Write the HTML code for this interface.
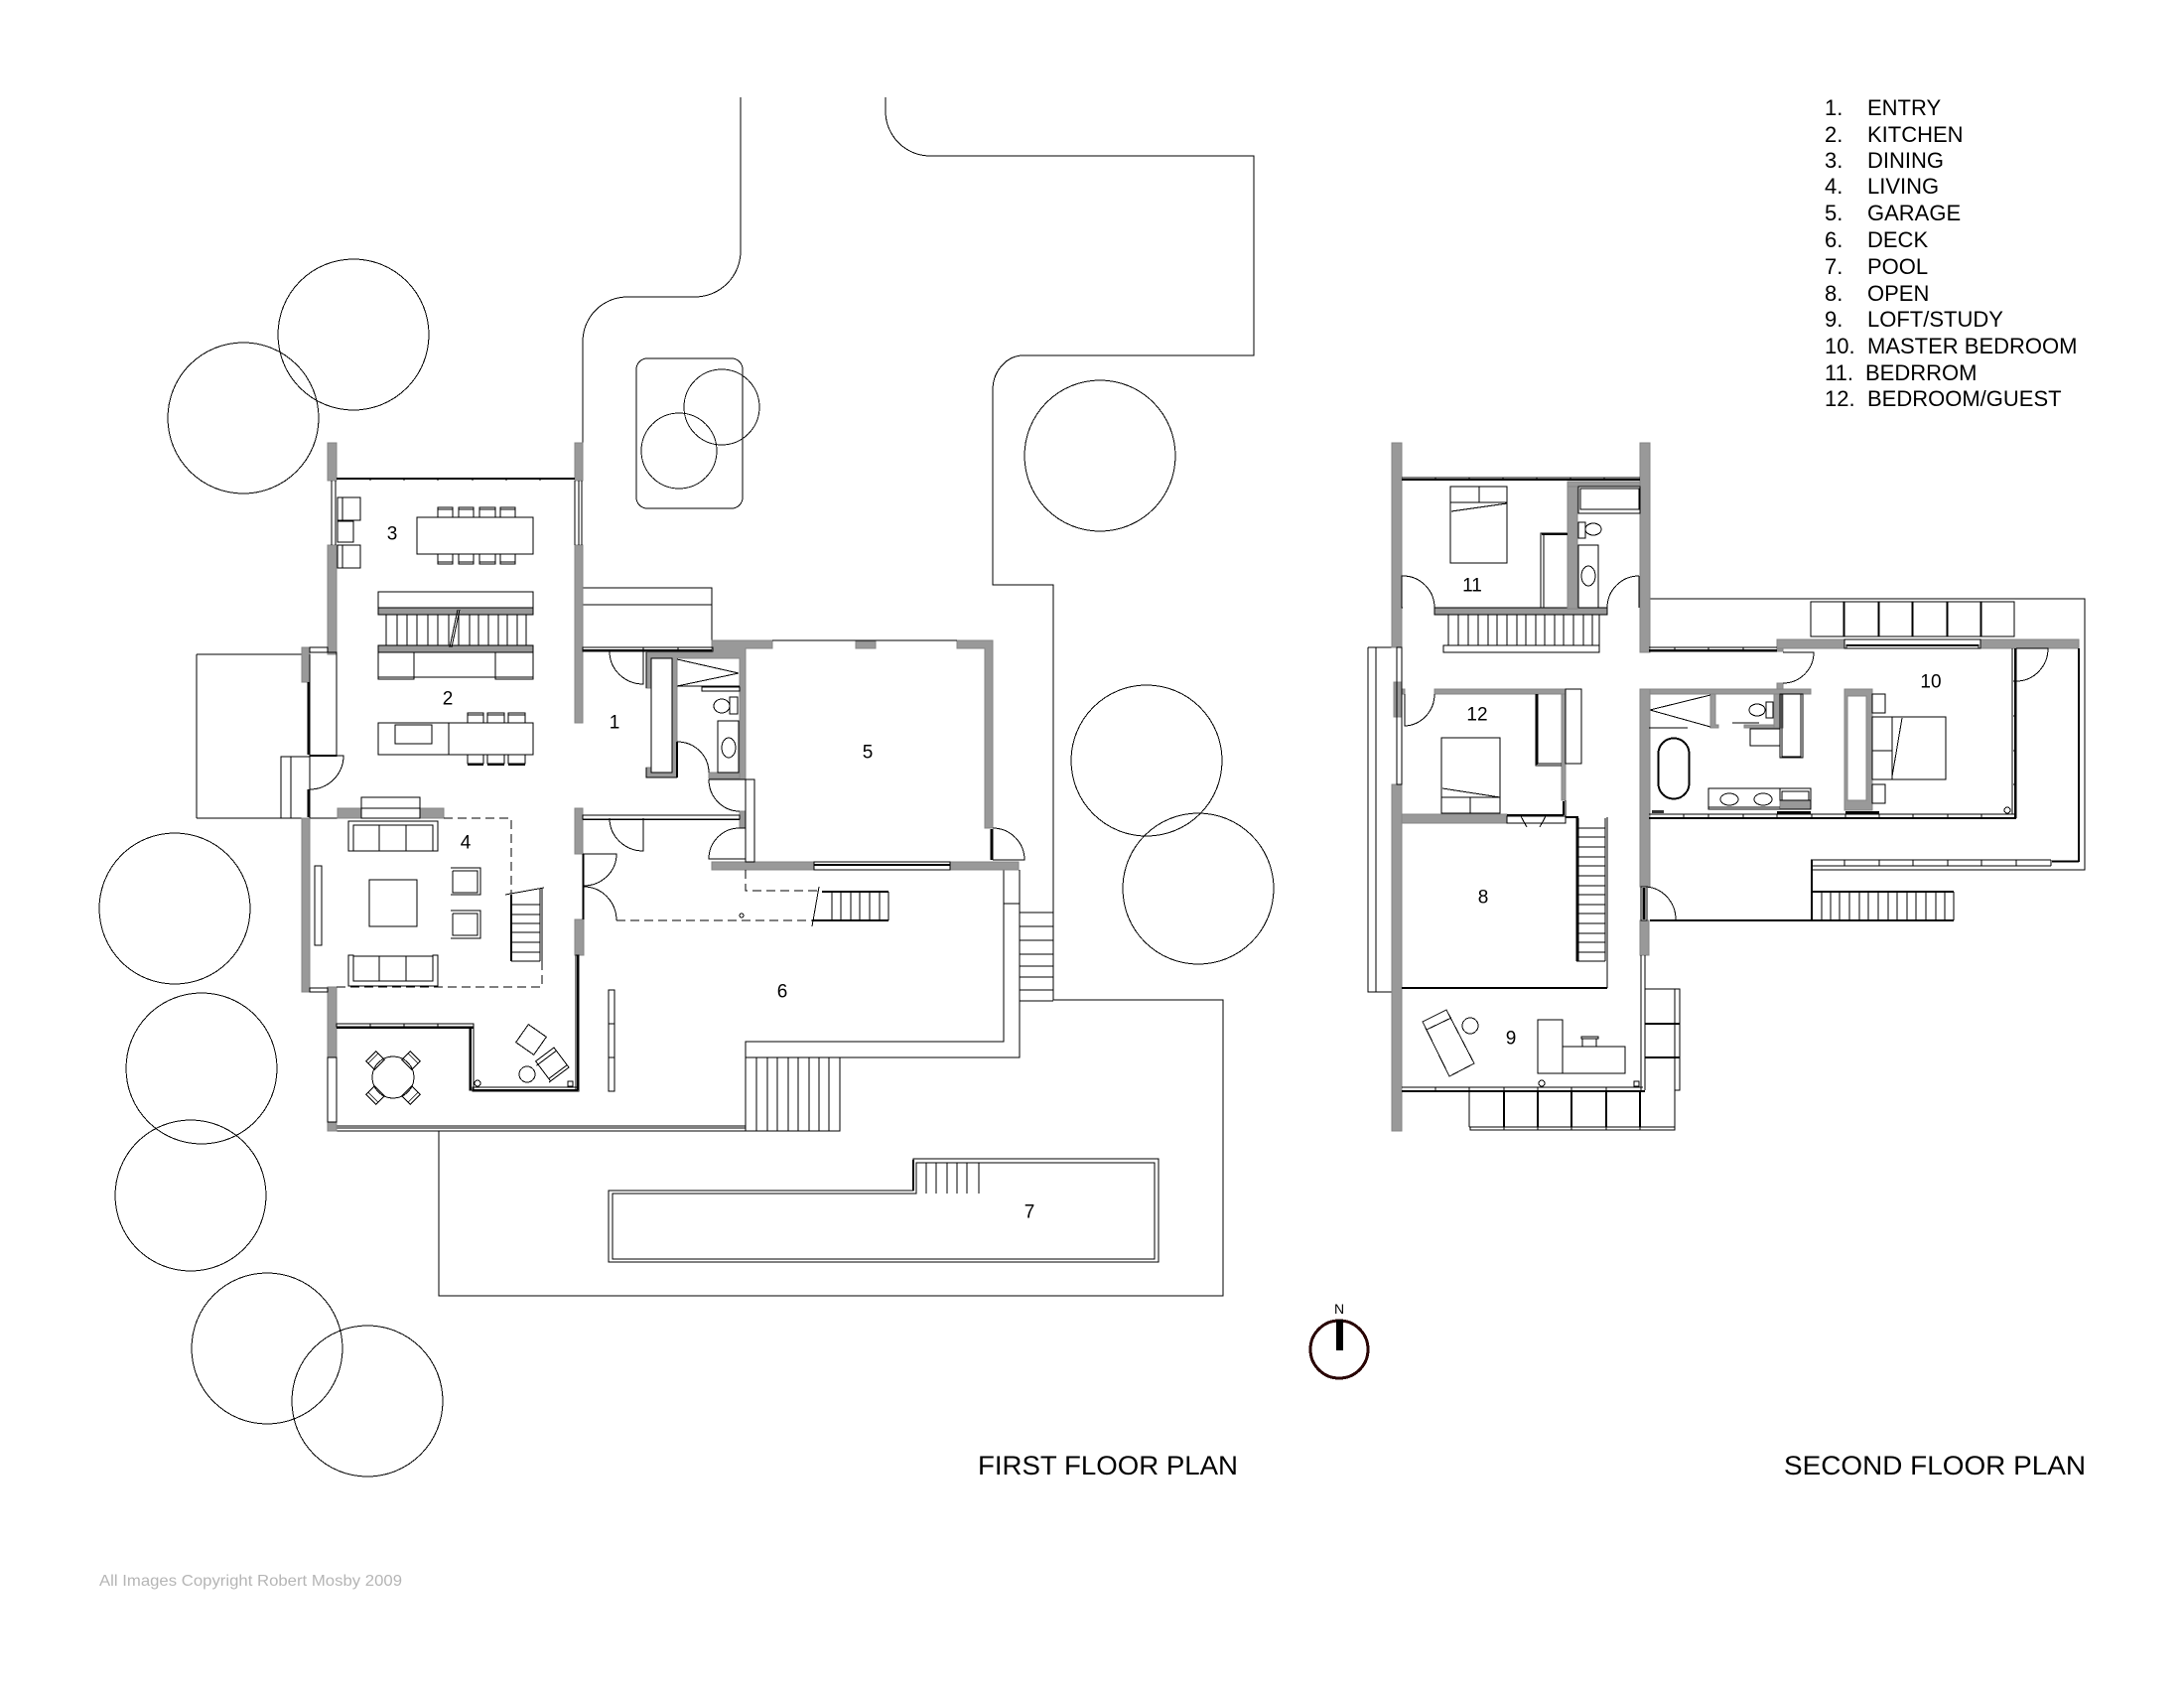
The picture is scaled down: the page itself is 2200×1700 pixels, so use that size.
<!DOCTYPE html>
<html>
<head>
<meta charset="utf-8">
<title>Floor plans</title>
<style>
html,body{margin:0;padding:0;background:#fff}
svg{display:block;shape-rendering:crispEdges}
text{font-family:"Liberation Sans",sans-serif;fill:#000;stroke:none}
.l{fill:none;stroke:#000;stroke-width:1}
.m{fill:none;stroke:#000;stroke-width:1.5}
.t{fill:none;stroke:#000;stroke-width:2}
.d{fill:none;stroke:#000;stroke-width:1;stroke-dasharray:9 5}
.w{fill:#fff;stroke:#000;stroke-width:1}
.g{fill:#999;stroke:#858585;stroke-width:1}
.gb{fill:#999;stroke:#000;stroke-width:1}
.n{font-size:19px;text-anchor:middle;dominant-baseline:central}
.lg{font-size:22px}
.ti{font-size:26.5px}
</style>
</head>
<body>
<svg xmlns="http://www.w3.org/2000/svg" width="2200" height="1700" viewBox="0 0 2200 1700">
<rect width="2200" height="1700" fill="#fff"/>

<!-- SITE -->
<g class="l">
<path d="M746 98V253A46 46 0 0 1 700 299H632A45 45 0 0 0 587 344V484"/>
<path d="M892 98V112A45 45 0 0 0 937 157H1263V358H1031A31 35 0 0 0 1000 393V589H1061V1007H1232V1305H442V1139"/>
<circle cx="356" cy="337" r="76"/><circle cx="245" cy="421" r="76"/>
<circle cx="176" cy="915" r="76"/><circle cx="203" cy="1076" r="76"/>
<circle cx="192" cy="1204" r="76"/><circle cx="269" cy="1358" r="76"/>
<circle cx="370" cy="1411" r="76"/><circle cx="1108" cy="459" r="76"/>
<circle cx="1155" cy="766" r="76"/><circle cx="1207" cy="895" r="76"/>
<circle cx="727" cy="410" r="38"/><circle cx="684" cy="454" r="38"/>
<rect x="641" y="361" width="107" height="151" rx="11"/>
<path d="M198 659H304M198 659V824M198 824H447"/>
<rect x="283" y="762" width="29" height="62"/><path d="M293 762V824"/>
<path d="M587 592H717V656M587 609H717"/>
<path d="M1027 919H1061M1027 933H1061M1027 947H1061M1027 961H1061M1027 973H1061M1027 984H1061M1027 997H1061M1027 1008H1061"/>
<path d="M1011 876V1049H751V1139M751 1065H1027V876M1011 910H1027"/>
<path d="M751 1139H846V1065M762 1065V1139M773 1065V1139M783 1065V1139M794 1065V1139M804 1065V1139M815 1065V1139M825 1065V1139M835 1065V1139"/>
<path d="M339 1134H751M339 1136H751M339 1139H751"/>
</g>

<!-- POOL -->
<g class="l">
<path d="M613 1199H920V1167H1167V1271H613Z"/>
<path d="M617 1202H923V1171H1163V1268H617Z"/>
<path d="M986 1171V1202M933 1171V1202M943 1171V1202M954 1171V1202M964 1171V1202M974 1171V1202"/>
</g>
<path class="t" d="M920 1168V1199"/>

<!-- FIRST FLOOR walls -->
<g class="g">
<rect x="330" y="446" width="9" height="38"/>
<rect x="579" y="446" width="8" height="38"/>
<rect x="330" y="549" width="9" height="110"/>
<rect x="579" y="549" width="8" height="179"/>
<rect x="304" y="652" width="8" height="35"/>
<rect x="304" y="824" width="8" height="175"/>
<rect x="340" y="814" width="24" height="10"/>
<rect x="423" y="814" width="24" height="10"/>
<rect x="330" y="994" width="9" height="71"/>
<rect x="330" y="1130" width="9" height="9"/>
<rect x="579" y="814" width="8" height="46"/>
<rect x="579" y="926" width="9" height="36"/>
<path d="M717 645H778V653H751V785H745V663H682V783H651V773H656V778H677V663H656V693H651V657H717Z"/>
<rect x="862" y="646" width="20" height="7"/>
<path d="M964 645H1000V834H992V653H964Z"/>
<rect x="717" y="868" width="103" height="8"/>
<rect x="957" y="868" width="69" height="8"/>
<rect x="714" y="778" width="31" height="6"/>
<rect x="745" y="817" width="6" height="17"/>
</g>
<path class="l" d="M778 645H964"/>
<path class="l" d="M651 657V693M651 773V783H682M656 663V693M656 778H677V663H656"/>
<rect class="w" x="656" y="663" width="21" height="115"/>

<!-- Windows 1F -->
<g class="l">
<path d="M334 484V549M338 484V549"/>
<path d="M579 484V549M583 484V549M586 484V549"/>
<rect x="312" y="652" width="18" height="5"/>
<path d="M312 657H339V762M312 659V824"/>
<rect x="312" y="995" width="18" height="4"/>
<rect x="330" y="1065" width="9" height="65"/>
<rect x="339" y="1031" width="138" height="3"/>
<rect x="473" y="1034" width="4" height="64"/>
<rect x="587" y="652" width="131" height="4"/>
<rect x="587" y="821" width="158" height="4"/>
<rect x="476" y="1095" width="107" height="4"/>
<rect x="580" y="962" width="3" height="137"/>
</g>
<path class="t" d="M339 482H579"/>
<path class="t" d="M587 655H717"/>
<path class="m" d="M587 825H745"/>
<path class="t" d="M339 1035H477"/>
<path class="t" d="M474 1034V1098"/>
<path class="t" d="M477 1098H582"/>
<path class="t" d="M582 962V1098"/>
<path class="t" d="M310.5 687V760M310.5 795V823"/>
<path class="t" d="M587.5 860V926"/>
<g class="m" style="stroke-width:1">
<path d="M373 481V484M407 481V484M441 481V484M476 481V484M510 481V484M544 481V484"/>
<path d="M373 1031V1034M407 1031V1034M441 1031V1034M648 652V656M683 652V656"/>
</g>

<!-- Doors 1F -->
<g class="l">
<path d="M614 656A34 33 0 0 0 648 689V656"/>
<path d="M682 747A32 31 0 0 1 714 778"/>
<path class="t" d="M682 747V783"/>
<path d="M714 785H751M714 785A31 32 0 0 0 745 817"/>
<path d="M745 834A31 31 0 0 0 714 865H751M745 834H751"/>
<rect x="751" y="785" width="9" height="83" fill="#fff"/>
<path d="M1000 834A32 32 0 0 1 1032 866H1000"/>
<path d="M312 761H346A34 34 0 0 1 312 795"/>
<path d="M614 824A34 33 0 0 0 648 857V824"/>
<path d="M587 860H621A33 32 0 0 1 588 892"/>
<path d="M588 893A33 34 0 0 1 621 927"/>
</g>
<path class="t" style="stroke-width:3" d="M999 835V866"/>
<rect x="820" y="868" width="137" height="8" class="w"/>
<path class="t" d="M820 871H957"/>
<path class="t" d="M312 761H339"/>

<!-- Dashes 1F -->
<g class="d">
<path d="M447 824H515V900"/>
<path d="M546 968V994H339"/>
<path d="M621 927H818"/>
<path d="M751 876V897H825"/>
</g>
<circle class="l" cx="747" cy="922" r="2"/>

<!-- Kitchen / dining -->
<g class="l">
<rect x="340" y="501" width="23" height="23"/><path d="M345 501V524"/>
<rect x="340" y="525" width="16" height="21"/>
<rect x="340" y="549" width="23" height="23"/><path d="M345 549V572"/>
<rect x="420" y="521" width="117" height="37"/>
<path d="M441 521V513H456V521M462 521V513H477V521M483 521V513H499V521M504 521V513H519V521"/>
<rect x="441" y="511" width="15" height="2"/><rect x="462" y="511" width="15" height="2"/><rect x="483" y="511" width="16" height="2"/><rect x="504" y="511" width="15" height="2"/>
<path d="M441 558V566H456V558M462 558V566H477V558M483 558V566H499V558M504 558V566H519V558"/>
<rect x="441" y="566" width="15" height="2"/><rect x="462" y="566" width="15" height="2"/><rect x="483" y="566" width="16" height="2"/><rect x="504" y="566" width="15" height="2"/>
<rect x="381" y="596" width="156" height="16"/>
<path d="M389 619V650M400 619V650M410 619V650M420 619V650M431 619V650M441 619V650M452 619V650M462 619V650M473 619V650M482 619V650M492 619V650M502 619V650M511 619V650M521 619V650M530 619V650"/>
<path d="M381 657V684H417V657M417 682H499M499 657V684H537V657M381 682H417M499 682H537"/>
<rect x="381" y="728" width="156" height="32"/>
<path d="M452 728V760"/>
<rect x="398" y="730" width="37" height="19"/>
<path d="M471 728V720H487V728M491 728V720H508V728M512 728V720H529V728"/>
<rect x="471" y="718" width="16" height="2"/><rect x="491" y="718" width="17" height="2"/><rect x="512" y="718" width="17" height="2"/>
<path d="M471 760V769H487V760M491 760V769H508V760M512 760V769H529V760"/>
</g>
<rect class="gb" x="381" y="612" width="156" height="7"/>
<rect class="gb" x="381" y="650" width="156" height="7"/>
<path class="l" d="M461 614L453 652M463 614L455 652"/>
<path class="t" d="M471 770H487M491 770H508M512 770H529"/>

<!-- Living -->
<g class="l">
<rect x="364" y="803" width="59" height="21"/><path d="M364 814H423"/>
<path d="M351 827H441V857H436V831H356V857H351ZM356 857H436M382 831V857M409 831V857"/>
<path d="M351 962H356V988H436V962H441V993H351ZM382 963V988M409 963V988M356 963H436"/>
<rect x="372" y="886" width="48" height="47"/>
<rect x="317" y="872" width="7" height="80"/>
<path d="M454 874H484V901H454M456 877H481V899H456V877"/>
<path d="M454 917H484V945H454M456 920H481V942H456V920"/>
<path d="M509 901L548 894M544 895V968M546 895V968M515 911H544M515 921H544M515 930H544M515 939H544M515 949H544M515 959H544M515 968H544"/>
</g>
<path class="t" d="M515 901V968"/>

<!-- Terrace furniture -->
<g class="l">
<circle cx="396" cy="1085" r="21"/>
<g transform="rotate(45 378 1068)"><rect x="372" y="1061" width="12" height="14"/><path d="M375 1061V1075"/></g>
<g transform="rotate(135 414 1068)"><rect x="408" y="1061" width="12" height="14"/><path d="M411 1061V1075"/></g>
<g transform="rotate(-45 378 1103)"><rect x="372" y="1096" width="12" height="14"/><path d="M375 1096V1110"/></g>
<g transform="rotate(-135 414 1103)"><rect x="408" y="1096" width="12" height="14"/><path d="M411 1096V1110"/></g>
<g transform="rotate(35 535 1047)"><rect x="524" y="1036" width="22" height="22"/></g>
<g transform="rotate(-37 555 1071)"><rect x="544" y="1060" width="23" height="22"/><path d="M542 1064H567V1085H542M544 1085V1061"/></g>
<circle cx="531" cy="1082" r="8"/>
<circle cx="481" cy="1091" r="3"/><rect x="572" y="1089" width="5" height="5"/>
<rect x="613" y="997" width="6" height="102"/>
<path d="M613 1031H619M613 1065H619"/>
</g>

<!-- Garage bath fixtures -->
<g class="l">
<path d="M682 664L744 678L682 691H745M707 692H745V696H707Z"/>
<ellipse cx="727" cy="711" rx="8" ry="7"/>
<rect x="735" y="702" width="8" height="17"/>
<rect x="723" y="726" width="21" height="52"/>
<ellipse cx="734" cy="753" rx="7" ry="10"/>
</g>
<!-- Stairs to deck -->
<g class="l">
<path d="M825 893L818 933M838 898V927M847 898V927M857 898V927M866 898V927M876 898V927M886 898V927M895 898V927"/>
</g>
<path class="t" d="M828 898H895M818 927H895"/>

<!-- SECOND FLOOR -->
<g class="l">
<path d="M1378 652H1402M1378 652V999H1402M1386 652V999"/>
<path d="M1662 603H2100V876H1825"/>
</g>
<g class="g">
<rect x="1402" y="446" width="10" height="206"/>
<rect x="1402" y="790" width="10" height="349"/>
<rect x="1404" y="687" width="8" height="35"/>
<rect x="1652" y="446" width="10" height="211"/>
<rect x="1652" y="694" width="10" height="199"/>
<rect x="1652" y="927" width="9" height="35"/>
<path d="M1579 485H1652V490H1589V613H1579Z"/>
<rect x="1445" y="694" width="132" height="5"/>
<rect x="1412" y="694" width="3" height="5"/>
<rect x="1573" y="699" width="4" height="107"/>
<rect x="1412" y="820" width="106" height="9"/>
<rect x="1790" y="644" width="68" height="9"/>
<rect x="1995" y="644" width="99" height="9"/>
<rect x="1790" y="653" width="6" height="3"/>
<rect x="1790" y="688" width="6" height="6"/>
<rect x="1662" y="694" width="162" height="5"/>
<rect x="1787" y="699" width="9" height="34"/>
<rect x="1757" y="730" width="30" height="3"/>
<path d="M1723 699H1728V730H1731V733H1723Z"/>
<path d="M1858 694H1886V816H1858ZM1861 701V806H1880V701Z" fill-rule="evenodd"/>
<rect x="1793" y="806" width="31" height="9"/>
</g>

<!-- 2F north -->
<g class="l">
<rect x="1407" y="652" width="5" height="138"/>
<path d="M1412 612V580A32 32 0 0 1 1445 612"/>
<path d="M1413 612H1412V605"/>
<path d="M1651 605V612M1651 580V612M1651 580A32 32 0 0 0 1619 612"/>
<path d="M1459 619V650M1469 619V650M1479 619V650M1489 619V650M1499 619V650M1508 619V650M1518 619V650M1528 619V650M1537 619V650M1547 619V650M1556 619V650M1566 619V650M1575 619V650M1585 619V650M1595 619V650M1604 619V650M1611 619V657"/>
<rect x="1454" y="650" width="157" height="7"/>
<rect x="1461" y="490" width="57" height="77"/>
<path d="M1490 490V506M1461 506H1518M1462 515L1518 507"/>
<rect x="1590" y="490" width="62" height="27"/>
<rect x="1592" y="492" width="59" height="21"/>
<rect x="1590" y="526" width="7" height="16"/>
<ellipse cx="1605" cy="533" rx="8" ry="6"/>
<rect x="1590" y="549" width="20" height="64"/>
<ellipse cx="1600" cy="580" rx="7" ry="10"/>
<path d="M1552 613V537H1579M1555 613V539"/>
</g>
<rect class="gb" x="1445" y="612" width="174" height="7"/>
<rect class="g" x="1579" y="490" width="10" height="123"/>
<path class="t" d="M1553 538H1579"/>
<path class="t" d="M1412 483H1652"/>
<path class="l" d="M1412 481H1652M1446 481V484M1480 481V484M1514 481V484M1548 481V484M1582 481V484M1616 481V484"/>

<!-- Bedroom 12 -->
<g class="l">
<rect x="1452" y="743" width="59" height="76"/>
<path d="M1452 803H1511M1481 803V819M1453 794L1511 803"/>
<path d="M1415 699V731A31 32 0 0 0 1445 699"/>
<rect x="1577" y="694" width="16" height="75"/>
<path d="M1547 699V771H1573M1549 699V769H1573"/>
<rect x="1518" y="822" width="59" height="7"/>
<path d="M1577 806V823"/>
<path d="M1532 822L1538 833M1557 822L1551 833"/>
<path d="M1532 822L1535 828M1557 822L1554 828"/>
</g>
<path class="t" d="M1518 821H1575M1575 807V821M1548 699V770"/>

<!-- Stairs 2F west -->
<g class="l">
<path d="M1577 823H1588M1617 824V968M1619 823V995"/>
<path d="M1588 834H1617M1588 843H1617M1588 853H1617M1588 863H1617M1588 872H1617M1588 882H1617M1588 892H1617M1588 901H1617M1588 911H1617M1588 920H1617M1588 930H1617M1588 940H1617M1588 949H1617M1588 959H1617M1588 968H1617"/>
</g>
<path class="t" style="stroke-width:3" d="M1589 824V968"/>
<path class="t" d="M1577 823H1590"/>
<path class="t" d="M1412 995H1619"/>

<!-- Loft -->
<g class="l">
<path d="M1433 1029L1457 1017L1485 1071L1460 1084ZM1437 1037L1462 1025"/>
<circle cx="1481" cy="1033" r="8"/>
<rect x="1549" y="1027" width="25" height="54"/>
<rect x="1574" y="1054" width="63" height="27"/>
<rect x="1594" y="1046" width="14" height="8"/>
<rect x="1593" y="1044" width="17" height="2"/>
<circle cx="1553" cy="1091" r="3"/><rect x="1646" y="1089" width="5" height="5"/>
<path d="M1412 1095H1655M1653 962V1098M1657 962V1098"/>
<path d="M1446 1095V1098M1480 1095V1098M1515 1095V1098M1549 1095V1098M1583 1095V1098M1618 1095V1098"/>
</g>
<path class="t" d="M1412 1099H1657"/>

<!-- Pavers south -->
<g class="l">
<path d="M1480 1098V1135M1687 1098V1135M1687 1135V1138H1481V1135M1480 1135H1687"/>
<path d="M1687 996H1692V1098H1687V996M1657 996H1687"/>
<path d="M1515 1135V1138M1549 1135V1138M1583 1135V1138M1618 1135V1138M1652 1135V1138"/>
</g>
<path class="t" d="M1515 1098V1135M1549 1098V1135M1583 1098V1135M1618 1098V1135M1652 1098V1135"/>
<path class="t" d="M1657 1031H1692M1657 1065H1692"/>

<!-- Master pavers -->
<g class="l">
<rect x="1824" y="606" width="33" height="35"/><rect x="1858" y="606" width="34" height="35"/>
<rect x="1893" y="606" width="33" height="35"/><rect x="1927" y="606" width="34" height="35"/>
<rect x="1962" y="606" width="33" height="35"/><rect x="1996" y="606" width="33" height="35"/>
<rect x="1858" y="644" width="137" height="9"/>
<path d="M1860 649V653M1993 649V653"/>
</g>
<path class="t" d="M1860 650H1993"/>

<!-- Master suite -->
<g class="l">
<path d="M1661 652H1790M1661 656H1790M1687 652V656M1721 652V656M1756 652V656"/>
<path d="M1796 657H1827A31 31 0 0 1 1796 688"/>
<path d="M1662 715L1723 700M1662 715L1723 732M1661 733H1700M1745 728H1772"/>
<ellipse cx="1770" cy="715" rx="8" ry="6"/>
<rect x="1779" y="707" width="7" height="16"/>
<rect x="1763" y="734" width="30" height="17"/>
<rect x="1793" y="699" width="23" height="64"/>
<rect x="1795" y="699" width="19" height="63"/>
<rect x="1670" y="743" width="32" height="62" rx="16"/>
<rect x="1671" y="744" width="30" height="60" rx="15"/>
<rect x="1721" y="794" width="103" height="21"/>
<path d="M1721 813H1793"/>
<ellipse cx="1742" cy="805" rx="9" ry="6"/>
<ellipse cx="1776" cy="805" rx="9" ry="6"/>
<rect x="1793" y="794" width="31" height="12"/>
<rect x="1795" y="797" width="27" height="9"/>
<rect x="1886" y="699" width="13" height="19"/>
<rect x="1886" y="790" width="13" height="19"/>
<rect x="1886" y="722" width="74" height="63"/>
<path d="M1906 722V785M1886 756H1906M1916 723L1906 782"/>
<circle cx="2022" cy="816" r="3"/>
<path d="M1661 820H2030M2027 653V820M2031 653V824"/>
<path d="M1696 820V824M1721 820V824M1756 820V824M1790 820V824M1825 820V824M1859 820V824M1893 820V824M1927 820V824M1962 820V824M1996 820V824"/>
<path d="M2031 653H2063A32 33 0 0 1 2031 686"/>
<path d="M2028 686H2031M2028 721H2031M2028 756H2031M2028 790H2031"/>
<path d="M1656 893A32 33 0 0 1 1688 926"/>
<rect x="1653" y="893" width="6" height="34"/>
<path d="M1824 866H2066M1824 872H2066M2066 866V872M1858 866V872M1893 866V872M1927 866V872M1962 866V872M1996 866V872M2031 866V872"/>
<path d="M1825 876H2100"/>
<path d="M1835 898V927M1844 898V927M1853 898V927M1863 898V927M1873 898V927M1882 898V927M1892 898V927M1902 898V927M1911 898V927M1921 898V927M1930 898V927M1940 898V927M1950 898V927M1959 898V927M1968 898V927"/>
</g>
<path class="t" d="M1661 655H1790"/>
<path class="t" d="M1661 824H2031"/>
<path class="t" d="M2030 653V824"/>
<path class="t" d="M2094 653V868"/>
<path class="t" d="M2067 867.5H2094"/>
<path class="t" d="M1825 866V927"/>
<path class="t" d="M1825 898H1968M1662 927H1968"/>
<path class="t" style="stroke-width:3" d="M1656 894V926"/>
<rect x="1790" y="817" width="34" height="3" fill="#000"/>
<rect x="1859" y="817" width="34" height="3" fill="#000"/>
<rect x="1664" y="816" width="12" height="3" fill="#333"/>

<!-- Room numbers -->
<text class="n" x="395" y="538">3</text>
<text class="n" x="451" y="704">2</text>
<text class="n" x="619" y="728">1</text>
<text class="n" x="874" y="758">5</text>
<text class="n" x="469" y="849">4</text>
<text class="n" x="788" y="999">6</text>
<text class="n" x="1037" y="1221">7</text>
<text class="n" x="1483" y="590">11</text>
<text class="n" x="1488" y="720">12</text>
<text class="n" x="1945" y="687">10</text>
<text class="n" x="1494" y="904">8</text>
<text class="n" x="1522" y="1046">9</text>

<!-- Legend -->
<g class="lg">
<text x="1838" y="116">1.</text><text x="1881" y="116">ENTRY</text>
<text x="1838" y="143">2.</text><text x="1881" y="143">KITCHEN</text>
<text x="1838" y="169">3.</text><text x="1881" y="169">DINING</text>
<text x="1838" y="195">4.</text><text x="1881" y="195">LIVING</text>
<text x="1838" y="222">5.</text><text x="1881" y="222">GARAGE</text>
<text x="1838" y="249">6.</text><text x="1881" y="249">DECK</text>
<text x="1838" y="276">7.</text><text x="1881" y="276">POOL</text>
<text x="1838" y="303">8.</text><text x="1881" y="303">OPEN</text>
<text x="1838" y="329">9.</text><text x="1881" y="329">LOFT/STUDY</text>
<text x="1838" y="356">10.</text><text x="1881" y="356">MASTER BEDROOM</text>
<text x="1838" y="383">11.</text><text x="1879" y="383">BEDRROM</text>
<text x="1838" y="409">12.</text><text x="1881" y="409">BEDROOM/GUEST</text>
</g>

<!-- Titles -->
<text class="ti" x="985" y="1485" textLength="262" lengthAdjust="spacingAndGlyphs">FIRST FLOOR PLAN</text>
<text class="ti" x="1797" y="1485" textLength="304" lengthAdjust="spacingAndGlyphs">SECOND FLOOR PLAN</text>
<text x="100" y="1597" font-size="16" style="fill:#b5b5b5" textLength="305" lengthAdjust="spacingAndGlyphs">All Images Copyright Robert Mosby 2009</text>

<!-- North -->
<text x="1349" y="1323" font-size="14" text-anchor="middle">N</text>
<circle cx="1349" cy="1359" r="29" fill="none" stroke="#2a0505" stroke-width="3"/>
<rect x="1346" y="1329" width="7" height="31" fill="#000"/>
</svg>
</body>
</html>
